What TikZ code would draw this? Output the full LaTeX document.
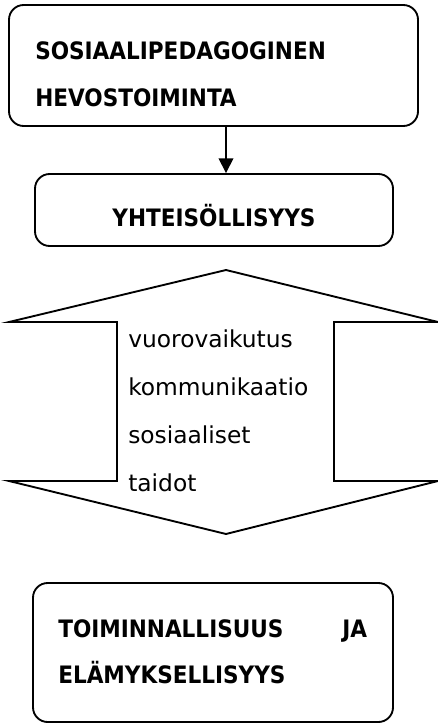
\documentclass[tikz,border=0pt]{standalone}
\usepackage{fontspec}
\setmainfont{DejaVu Sans Condensed}
\newfontfamily\widefont{DejaVu Sans}
\usetikzlibrary{arrows.meta,fit}

\begin{document}
\begin{tikzpicture}[x=0.75pt,y=-0.75pt]
\tikzset{BoxStyle/.style =
	{draw,
		rounded corners = 11pt,
		line width = 1.4pt,
		inner sep = 0pt},
	TextStyle/.style =
	{anchor = base west,
		inner sep = 0pt,
		align = left,
		font = \fontsize{18}{35}\selectfont}}
\useasboundingbox (0,0) rectangle (438,724);
\node[BoxStyle, fit={(9,5) (418,126)}] (hevo) {};
\node[BoxStyle, fit={(35,174) (393,246)}] (yht) {};
\node[BoxStyle, fit={(33,583) (393,722)}] (toim) {};
\node[TextStyle, text width=270pt] (hevoT) at (35,60)
	{\bfseries SOSIAALIPEDAGOGINEN\\HEVOSTOIMINTA};
\node[TextStyle, anchor=base] (yhtT) at (214,226) {\bfseries YHTEISÖLLISYYS};
\node[TextStyle, text width=231.75pt] (toimT) at (58,637)
	{\bfseries TOIMINNALLISUUS\hfill JA\\ELÄMYKSELLISYYS};
\coordinate (mid) at (226,0);
\draw[line width=1.1pt, -{Triangle[length=11pt,width=11pt]}]
	(hevo.south -| mid) -- (yht.north -| mid);
% double arrow
\draw[line width=1.4pt, line join=miter]
	(226,270) -- (438,322) -- (334,322) -- (334,481) -- (438,481)
	-- (226,534) -- (9,481) -- (117,481) -- (117,322) -- (9,322) -- cycle;
\node[TextStyle, font=\widefont\fontsize{17.5}{36}\selectfont, text width=150pt] (taidot) at (128,347)
	{vuorovaikutus\\kommunikaatio\\sosiaaliset\\taidot};
\end{tikzpicture}
\end{document}
